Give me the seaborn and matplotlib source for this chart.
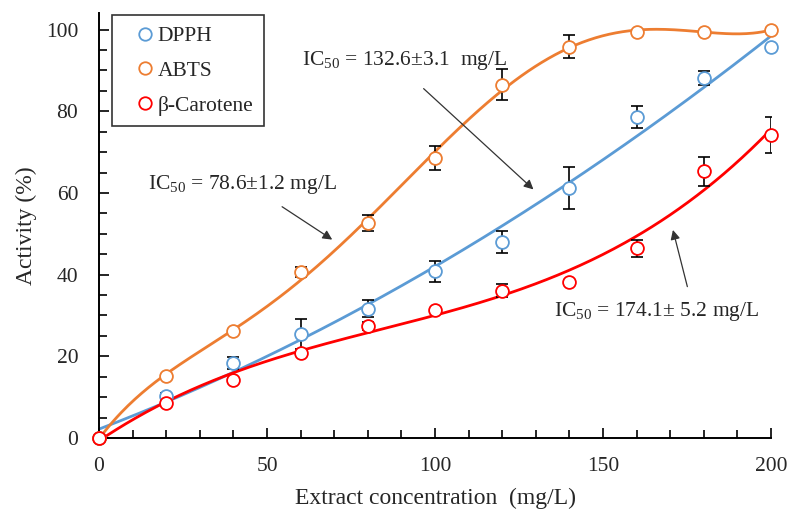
import numpy as np
import pandas as pd
import matplotlib
matplotlib.use("Agg")
import matplotlib.pyplot as plt
from matplotlib.lines import Line2D
from matplotlib.ticker import MultipleLocator
import seaborn as sns

conc = [0, 20, 40, 60, 80, 100, 120, 140, 160, 180, 200]
dpph = [0, 10.3, 18.4, 25.5, 31.7, 40.8, 48.0, 61.2, 78.6, 88.2, 95.8]
dpph_err = [0, 0.8, 1.5, 3.7, 2.0, 2.5, 2.7, 5.1, 2.6, 1.7, 0]
abts = [0, 15.2, 26.1, 40.6, 52.6, 68.6, 86.5, 95.8, 99.5, 99.3, 100.0]
abts_err = [0, 0.5, 0.6, 1.3, 2.0, 3.0, 3.8, 2.8, 0.3, 0.3, 0.3]
carot = [0, 8.6, 14.3, 20.9, 27.5, 31.4, 36.1, 38.3, 46.4, 65.3, 74.2]
carot_err = [0, 0.3, 0.3, 0.3, 1.0, 0.3, 1.5, 0.3, 2.2, 3.6, 4.3]
names = ["DPPH", "ABTS", "β-Carotene"]
colors = ["#5B9BD5", "#ED7D31", "#FF0000"]
fit_deg = [2, 5, 3]

sns.set_style("ticks")
plt.rcParams["font.family"] = ["Liberation Serif", "DejaVu Serif"]
plt.rcParams["mathtext.fontset"] = "custom"
plt.rcParams["mathtext.rm"] = "Liberation Serif"

fig = plt.figure(figsize=(7.9, 5.09), dpi=100)
ax = fig.add_axes([0.1253, 0.1395, 0.8507, 0.8345])

series = [dpph, abts, carot]
errs = [dpph_err, abts_err, carot_err]
grid = np.linspace(0, 200, 300)
for vals, err, c, deg, name in zip(series, errs, colors, fit_deg, names):
    coef = np.polyfit(conc, vals, deg)
    fit = pd.DataFrame({"x": grid, "y": np.polyval(coef, grid)})
    sns.lineplot(data=fit, x="x", y="y", color=c, lw=2.0, ax=ax, zorder=2)
    ax.errorbar(conc, vals, yerr=err, fmt="none", ecolor="black", elinewidth=1.2,
                capsize=4, capthick=1.2, zorder=3)
    df = pd.DataFrame({"x": conc, "y": vals})
    sns.scatterplot(data=df, x="x", y="y", ax=ax, marker="o", s=85,
                    facecolor="white", edgecolor=c, linewidth=1.3, zorder=4,
                    clip_on=False)

ax.set_xlim(0, 200)
ax.set_ylim(0, 104)
ax.xaxis.set_major_locator(MultipleLocator(50))
ax.xaxis.set_minor_locator(MultipleLocator(10))
ax.yaxis.set_major_locator(MultipleLocator(20))
ax.yaxis.set_minor_locator(MultipleLocator(5))
ax.tick_params(which="both", direction="in", width=1.2, labelsize=15.5, color="black")
ax.tick_params(which="major", length=7)
ax.tick_params(which="minor", length=6)
ax.tick_params(axis="y", which="major", pad=15)
ax.tick_params(axis="x", which="major", pad=14)
for s in ["top", "right"]:
    ax.spines[s].set_visible(False)
for s in ["left", "bottom"]:
    ax.spines[s].set_linewidth(1.4)
    ax.spines[s].set_color("black")

ax.set_xlabel("Extract concentration  (mg/L)", fontsize=17, labelpad=8)
ax.set_ylabel("Activity (%)", fontsize=17, labelpad=6)

handles = [Line2D([], [], marker="o", ls="none", mfc="none", mec=c, ms=9, mew=1.3)
           for c in colors]
leg = ax.legend(handles, names, loc="upper left", bbox_to_anchor=(0.019, 0.995),
                borderaxespad=0.0, frameon=True, fancybox=False, edgecolor="black",
                fontsize=15.5, handletextpad=-0.45, labelspacing=0.68,
                borderpad=0.5, handlelength=2.07)
leg.get_frame().set_linewidth(1.2)

arrow = dict(arrowstyle="-|>", color="#333333", lw=0.9, mutation_scale=14)
ax.annotate("", xy=(70.1, 48.2), xytext=(53.8, 57.0), arrowprops=arrow)
ax.text(14.5, 62.0, r"IC$_{50}$ = 78.6±1.2 mg/L", fontsize=15.5, va="center")
ax.annotate("", xy=(129.9, 60.4), xytext=(96.0, 86.0), arrowprops=arrow)
ax.text(60.5, 92.5, r"IC$_{50}$ = 132.6±3.1  mg/L", fontsize=15.5, va="center")
ax.annotate("", xy=(170.6, 51.6), xytext=(175.3, 36.4), arrowprops=arrow)
ax.text(135.5, 31.0, r"IC$_{50}$ = 174.1± 5.2 mg/L", fontsize=15.5, va="center")

fig.savefig("out.png", dpi=100)
